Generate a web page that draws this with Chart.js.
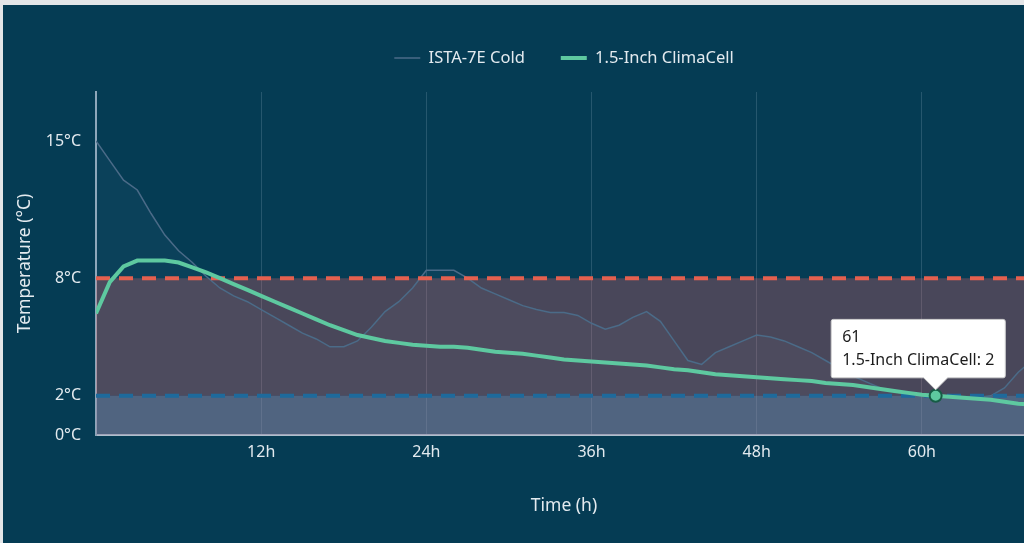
<!DOCTYPE html>
<html>
<head>
<meta charset="utf-8">
<script src="https://cdn.jsdelivr.net/npm/chart.js@4.4.0/dist/chart.umd.min.js"></script>
<style>
html, body { margin: 0; padding: 0; overflow: hidden; background: #e4e6e8; width: 1024px; height: 543px; }
#wrap { position: absolute; left: 3px; top: 5px; width: 1122px; height: 538px; background: #053c54; }
</style>
</head>
<body>
<div id="wrap"><canvas id="mycanvas" width="1122" height="538"></canvas></div>
<script>
// hours since start
var hours = [0,1,2,3,4,5,6,7,8,9,10,11,12,13,14,15,16,17,18,19,20,21,22,23,24,25,26,27,28,29,30,31,32,33,34,
	35,36,37,38,39,40,41,42,43,44,45,46,47,48,49,50,51,52,53,54,55,56,57,58,59,60,61,62,63,64,65,66,67,68];

var istaCold = [15.0,14.0,13.0,12.5,11.3,10.2,9.4,8.8,8.1,7.5,7.1,6.8,6.4,6.0,5.6,5.2,4.9,4.5,4.5,4.8,
	5.5,6.3,6.8,7.5,8.4,8.4,8.4,8.0,7.5,7.2,6.9,6.6,6.4,6.25,6.25,6.1,5.7,5.4,5.6,6.0,
	6.3,5.8,4.8,3.8,3.6,4.2,4.5,4.8,5.1,5.0,4.8,4.5,4.2,3.8,3.4,3.0,2.7,2.4,2.2,2.1,
	2.05,2.0,2.0,1.95,1.9,2.0,2.4,3.2,3.8];

var climaCell = [6.2,7.8,8.6,8.9,8.9,8.9,8.8,8.55,8.3,8.0,7.7,7.4,7.1,6.8,6.5,6.2,5.9,5.6,5.35,5.1,
	4.95,4.8,4.7,4.6,4.55,4.5,4.5,4.45,4.35,4.25,4.2,4.15,4.05,3.95,3.85,3.8,3.75,3.7,3.65,3.6,
	3.55,3.45,3.35,3.3,3.2,3.1,3.05,3.0,2.95,2.9,2.85,2.8,2.75,2.65,2.6,2.55,2.45,2.35,2.25,2.15,
	2.05,2,1.95,1.9,1.85,1.8,1.7,1.6,1.55];

// safe range lines
var limitHours = [0, 68];
var upperLimit = [8, 8];
var lowerLimit = [2, 2];

var xTicks = [0, 12, 24, 36, 48, 60];
var yTicks = [0, 2, 8, 15];

var font = 'Noto Sans';
var textColor = '#e3eaef';

function pts(xs, ys) {
	var out = [];
	for (var i in xs) {
		out.push({x: xs[i], y: ys[i]});
	}
	return out;
}

// push the plot area down a bit under the legend
var legendSpace = {
	id: 'legendSpace',
	beforeInit: function(chart) {
		var fit = chart.legend.fit;
		chart.legend.fit = function() {
			fit.call(this);
			this.height += 15.75;
		};
	}
};

// tooltip box sits a bit left of its caret
var tipShift = {
	id: 'tipShift',
	beforeTooltipDraw: function(chart, args) {
		var t = args.tooltip;
		t.x = t.caretX - t.width * 0.6;
	}
};

var ctx = document.getElementById('mycanvas');

var chart = new Chart(ctx, {
	type: 'line',
	data: {
		datasets: [
			{
				label: 'ISTA-7E Cold',
				data: pts(hours, istaCold),
				borderColor: '#4b6b88',
				borderWidth: 1.5,
				backgroundColor: 'rgba(140,180,210,0.05)',
				fill: 'origin',
				pointRadius: 0,
				pointHoverRadius: 0,
				order: 2
			},
			{
				label: '1.5-Inch ClimaCell',
				data: pts(hours, climaCell),
				borderColor: '#5ec9a0',
				backgroundColor: '#5ec9a0',
				borderWidth: 4,
				fill: false,
				pointRadius: 0,
				pointHoverRadius: 6,
				pointHoverBackgroundColor: '#5ec9a0',
				pointHoverBorderColor: '#175c46',
				pointHoverBorderWidth: 2,
				order: 0
			},
			{
				label: 'min',
				data: pts(limitHours, lowerLimit),
				borderColor: '#1e6a9c',
				borderWidth: 4,
				borderDash: [14, 9],
				backgroundColor: 'rgba(150,135,165,0.5)',
				fill: 'origin',
				pointRadius: 0,
				pointHoverRadius: 0,
				order: 1
			},
			{
				label: 'max',
				data: pts(limitHours, upperLimit),
				borderColor: '#e5604f',
				borderWidth: 4,
				borderDash: [14, 9],
				backgroundColor: 'rgba(232,100,105,0.3)',
				fill: {value: 2},
				pointRadius: 0,
				pointHoverRadius: 0,
				order: 1
			}
		]
	},
	options: {
		responsive: false,
		devicePixelRatio: 1,
		animation: false,
		events: [],
		layout: { padding: { top: 8.75, left: 0, right: 0, bottom: 0 } },
		plugins: {
			filler: { drawTime: 'beforeDatasetsDraw' },
			legend: {
				labels: {
					color: textColor,
					font: { family: font, size: 16.5 },
					usePointStyle: true,
					pointStyle: 'line',
					pointStyleWidth: 26,
					padding: 36,
					filter: function(item) { return item.datasetIndex < 2; },
					sort: function(a, b) { return a.datasetIndex - b.datasetIndex; }
				}
			},
			tooltip: {
				backgroundColor: '#ffffff',
				titleColor: '#1c1c1c',
				bodyColor: '#1c1c1c',
				titleFont: { family: font, size: 16, weight: 'normal' },
				bodyFont: { family: font, size: 16 },
				padding: { top: 8, bottom: 8, left: 11, right: 11 },
				titleMarginBottom: 4,
				displayColors: false,
				caretSize: 12,
				caretPadding: 6,
				cornerRadius: 2,
				borderColor: '#d0d0d0',
				borderWidth: 1,
				xAlign: 'center',
				yAlign: 'bottom'
			}
		},
		scales: {
			x: {
				type: 'linear',
				min: 0,
				max: 68,
				afterBuildTicks: function(s) { s.ticks = xTicks.map(function(v) { return {value: v}; }); },
				afterFit: function(s) { s.height = 108; },
				grid: {
					drawTicks: false,
					lineWidth: 1,
					color: function(c) { return c.tick && c.tick.value === 0 ? 'rgba(0,0,0,0)' : 'rgba(160,185,205,0.22)'; }
				},
				border: { display: true, color: '#aebfcc', width: 2 },
				ticks: {
					color: textColor,
					font: { family: font, size: 16 },
					padding: 8,
					maxRotation: 0,
					callback: function(v) { return v === 0 ? '' : v + 'h'; }
				},
				title: {
					display: true,
					text: 'Time (h)',
					color: textColor,
					font: { family: font, size: 17.5 },
					padding: { top: 0, bottom: 26.5 }
				}
			},
			y: {
				min: 0,
				max: 17.5,
				afterBuildTicks: function(s) { s.ticks = yTicks.map(function(v) { return {value: v}; }); },
				afterFit: function(s) { s.width = 93; },
				grid: { display: false },
				border: { display: true, color: '#8ea7ba', width: 2 },
				ticks: {
					color: textColor,
					font: { family: font, size: 16 },
					padding: 7,
					callback: function(v) { return v + '°C'; }
				},
				title: {
					display: true,
					text: 'Temperature (°C)',
					color: textColor,
					font: { family: font, size: 17.5 },
					padding: { top: 11.5, bottom: 0 }
				}
			},
			y2: {
				position: 'right',
				grid: { display: false },
				border: { display: false },
				ticks: { display: false },
				afterFit: function(s) { s.width = 93; }
			}
		}
	},
	plugins: [legendSpace, tipShift]
});

chart.setActiveElements([{datasetIndex: 1, index: 61}]);
chart.tooltip.setActiveElements([{datasetIndex: 1, index: 61}], {x: 0, y: 0});
chart.update();
</script>
</body>
</html>
